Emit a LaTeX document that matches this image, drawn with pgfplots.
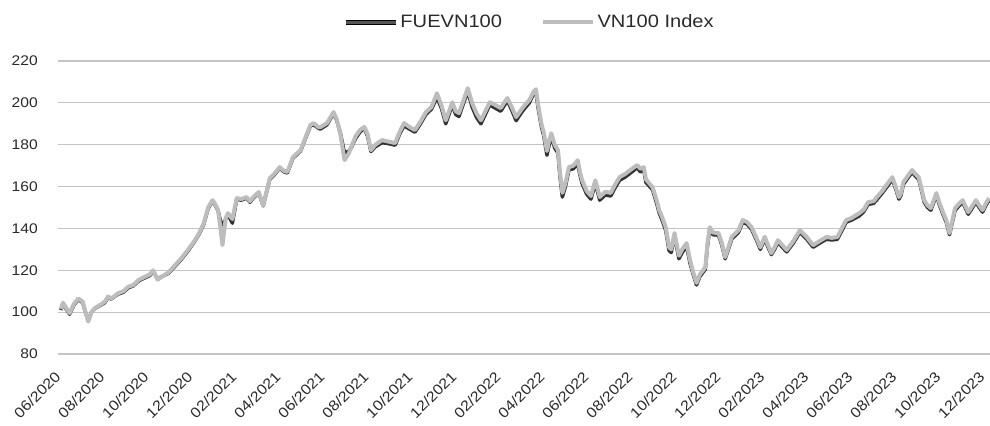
\documentclass[border=0pt]{standalone}
\usepackage{fontspec}
\setmainfont{Liberation Sans}[FakeStretch=1.12]
\usepackage{pgfplots}
\pgfplotsset{compat=1.18}
\usepackage{pgfplotstable}
\definecolor{fuecol}{HTML}{333333}
\definecolor{fueleg}{HTML}{555555}
\definecolor{vncol}{HTML}{BDBDBD}
\definecolor{gridcol}{HTML}{C4C4C4}
\definecolor{txtcol}{HTML}{2A2A2A}

\pgfplotstableread{
x vn fue
-0.10 101.5 101.0
0.0 104.5 104.0
0.15 102 101.5
0.3 99.5 99.0
0.5 104 103.5
0.7 106.5 106.0
0.9 105 104.5
1.05 99 99.0
1.15 95.5 96.5
1.3 100 100.0
1.45 102 101.8
1.7 103.5 103.2
1.9 105 104.5
2.05 107.5 107.0
2.2 106.5 106.3
2.5 109 108.6
2.75 110 109.5
2.95 112 111.5
3.2 113 112.6
3.45 115.5 115.0
3.7 116.8 116.3
3.95 118 117.5
4.1 120 119.5
4.3 115.5 116.0
4.5 117 117.0
4.8 119 118.6
5.1 122.5 122.0
5.4 126 125.5
5.7 130 129.5
6.0 134.4 134.0
6.2 138 137.5
6.4 142.5 142.0
6.6 150 149.5
6.8 153.5 153.0
6.9 152 151.5
7.05 148.8 148.5
7.15 141 144.0
7.25 132 141.0
7.4 145 144.5
7.5 147.3 146.8
7.7 144.5 142.5
7.9 154.5 154.0
8.1 154 153.5
8.35 155 154.5
8.5 153 152.5
8.65 155 154.5
8.9 157.4 157.0
9.1 151 150.8
9.4 164 163.5
9.6 166 165.5
9.85 169.3 168.8
10.05 167.5 167.0
10.2 167 166.5
10.45 174 173.5
10.6 175.5 175.0
10.8 177.4 177.0
11.1 185.5 185.0
11.25 189.5 189.0
11.4 190.3 189.5
11.6 188.5 188.0
11.7 188.4 187.5
12.0 190.3 189.5
12.3 195.6 195.0
12.45 192 191.5
12.6 185.5 186.0
12.8 172.6 176.0
13.0 176 177.0
13.1 178.9 178.5
13.3 184 183.0
13.5 187 186.0
13.7 188.5 188.0
13.85 185 184.0
14.0 177.4 176.8
14.2 180 179.0
14.5 182.2 181.0
14.8 181.5 180.5
15.1 180.8 179.8
15.3 186 185.0
15.5 190.3 189.0
15.75 188.5 187.5
16.0 187 186.0
16.25 191 190.0
16.5 195.6 194.5
16.75 198 197.0
17.0 204.6 202.5
17.2 199 197.5
17.4 191.7 190.0
17.55 196 194.5
17.7 200.3 199.0
17.85 196 194.5
18.0 195.1 193.5
18.2 201 199.5
18.4 207 205.5
18.6 199.9 198.0
18.8 195 193.0
19.0 191.7 190.0
19.2 196 194.5
19.4 200.3 199.0
19.65 199 197.5
19.9 197.5 196.0
20.05 200 198.5
20.2 202.3 201.0
20.4 198 196.5
20.6 193.2 191.5
20.85 197 195.5
21.0 199 197.5
21.2 201.3 200.0
21.4 205.5 204.5
21.5 206.5 205.0
21.6 199 197.5
21.75 190 188.5
21.85 186 184.5
22.0 177 175.0
22.1 182 180.0
22.2 185.5 184.0
22.35 180 178.5
22.5 177.4 176.0
22.6 166 164.0
22.7 157 155.0
22.85 162 160.5
23.0 169.3 168.0
23.2 170 168.5
23.4 172.6 171.0
23.5 167 165.5
23.6 163 161.5
23.8 158 156.5
24.0 155.5 154.0
24.2 163 161.5
24.3 159 157.5
24.4 155 153.5
24.65 157.5 156.0
24.9 157 155.5
25.1 161 159.5
25.3 164.5 163.0
25.55 166 164.5
25.8 168 166.5
26.1 170.3 169.0
26.25 168.5 167.0
26.4 169.3 168.0
26.5 163.5 162.0
26.8 159.7 158.5
27.0 153 151.5
27.1 148.8 147.5
27.25 145 143.5
27.4 140.6 139.0
27.55 131 129.5
27.65 130 128.5
27.8 137.8 136.5
28.0 127 125.5
28.15 130 128.5
28.35 133 131.5
28.5 125 123.5
28.65 119 118.0
28.8 114 113.0
28.95 118 117.0
29.2 121.5 120.5
29.3 133 132.0
29.4 140.6 139.5
29.55 138 137.0
29.8 137.8 136.8
29.95 133 132.0
30.1 126.3 125.5
30.25 131 130.0
30.4 136 135.0
30.7 139 138.0
30.9 144 143.0
31.1 143 142.0
31.3 140.6 139.6
31.5 136 135.0
31.7 131 130.0
31.9 136 135.0
32.05 132 131.0
32.2 128.2 127.5
32.35 131 130.0
32.5 134.4 133.4
32.7 132 131.0
32.9 129.7 128.8
33.2 134 133.0
33.5 139.2 138.2
33.8 136 135.0
34.1 132 131.0
34.4 134 133.0
34.7 135.9 134.8
34.95 135.5 134.5
35.2 135.9 134.8
35.4 140 138.8
35.6 144 143.0
35.85 145 144.0
36.2 147.3 146.0
36.4 149 148.0
36.6 152.6 151.5
36.85 153 152.0
37.0 155 153.8
37.25 158 157.0
37.5 161.7 160.5
37.7 164.5 163.5
37.85 160 159.0
38.0 155 154.0
38.1 157 156.0
38.2 162.1 161.0
38.4 165 164.0
38.6 167.9 166.8
38.75 166 165.0
38.9 164.5 163.5
39.05 158 157.0
39.15 153.5 152.5
39.3 151 150.0
39.45 149.7 148.7
39.6 154 153.0
39.7 156.9 155.8
39.85 152 151.0
40.0 147.8 146.8
40.15 144 143.0
40.3 137.8 137.0
40.45 145 144.0
40.55 149.7 148.6
40.75 152 151.0
40.9 153.5 152.5
41.05 150 149.0
41.15 147.8 146.8
41.35 151 150.0
41.5 153.5 152.5
41.65 151 150.0
41.8 148.8 147.8
41.95 152 151.0
42.1 154.5 153.5
}\datatable

\begin{document}
\begin{tikzpicture}
\begin{axis}[
  scale only axis,
  width=932bp, height=293bp,
  xmin=-0.227, xmax=42.14,
  ymin=80, ymax=220,
  axis line style={draw=none},
  major tick length=0pt,
  ytick={80,100,...,220},
  ymajorgrids,
  grid style={gridcol, line width=1.1bp},
  xtick={0,2,...,42},
  xticklabels={06/2020,08/2020,10/2020,12/2020,02/2021,04/2021,06/2021,08/2021,10/2021,12/2021,02/2022,04/2022,06/2022,08/2022,10/2022,12/2022,02/2023,04/2023,06/2023,08/2023,10/2023,12/2023},
  xticklabel style={inner sep=0pt, xshift=-5bp, yshift=-20bp, rotate=45, anchor=east, font=\fontsize{14.5}{17}\selectfont, text=txtcol},
  yticklabel style={anchor=east, inner sep=0pt, xshift=-20bp, font=\fontsize{14}{17}\selectfont, text=txtcol},
  /pgf/number format/assume math mode=true,
  legend columns=2,
  legend style={draw=none, fill=none, at={(0.506,1.133)}, anchor=center,
    font=\fontsize{18}{21}\selectfont, text=txtcol,
    /tikz/every even column/.append style={column sep=37bp}},
  legend image code/.code={\draw[#1] (0bp,0bp) -- (50bp,0bp);},
  clip=false,
]
\addlegendimage{draw=black, line width=5bp, postaction={draw=fueleg, line width=3bp}}
\addlegendentry{FUEVN100}
\addlegendimage{draw=vncol, line width=4.5bp}
\addlegendentry{VN100 Index}
\addplot[fuecol, line width=3.5bp, line join=round, forget plot] table[x=x, y=fue] {\datatable};
\addplot[vncol, line width=4bp, line join=round, forget plot] table[x=x, y=vn] {\datatable};
\coordinate (bbsw) at (rel axis cs:-0.0622,-0.2423);
\coordinate (bbne) at (rel axis cs:1,1.2082);
\end{axis}
\pgfresetboundingbox
\path[use as bounding box] (bbsw) rectangle (bbne);
\end{tikzpicture}
\end{document}
